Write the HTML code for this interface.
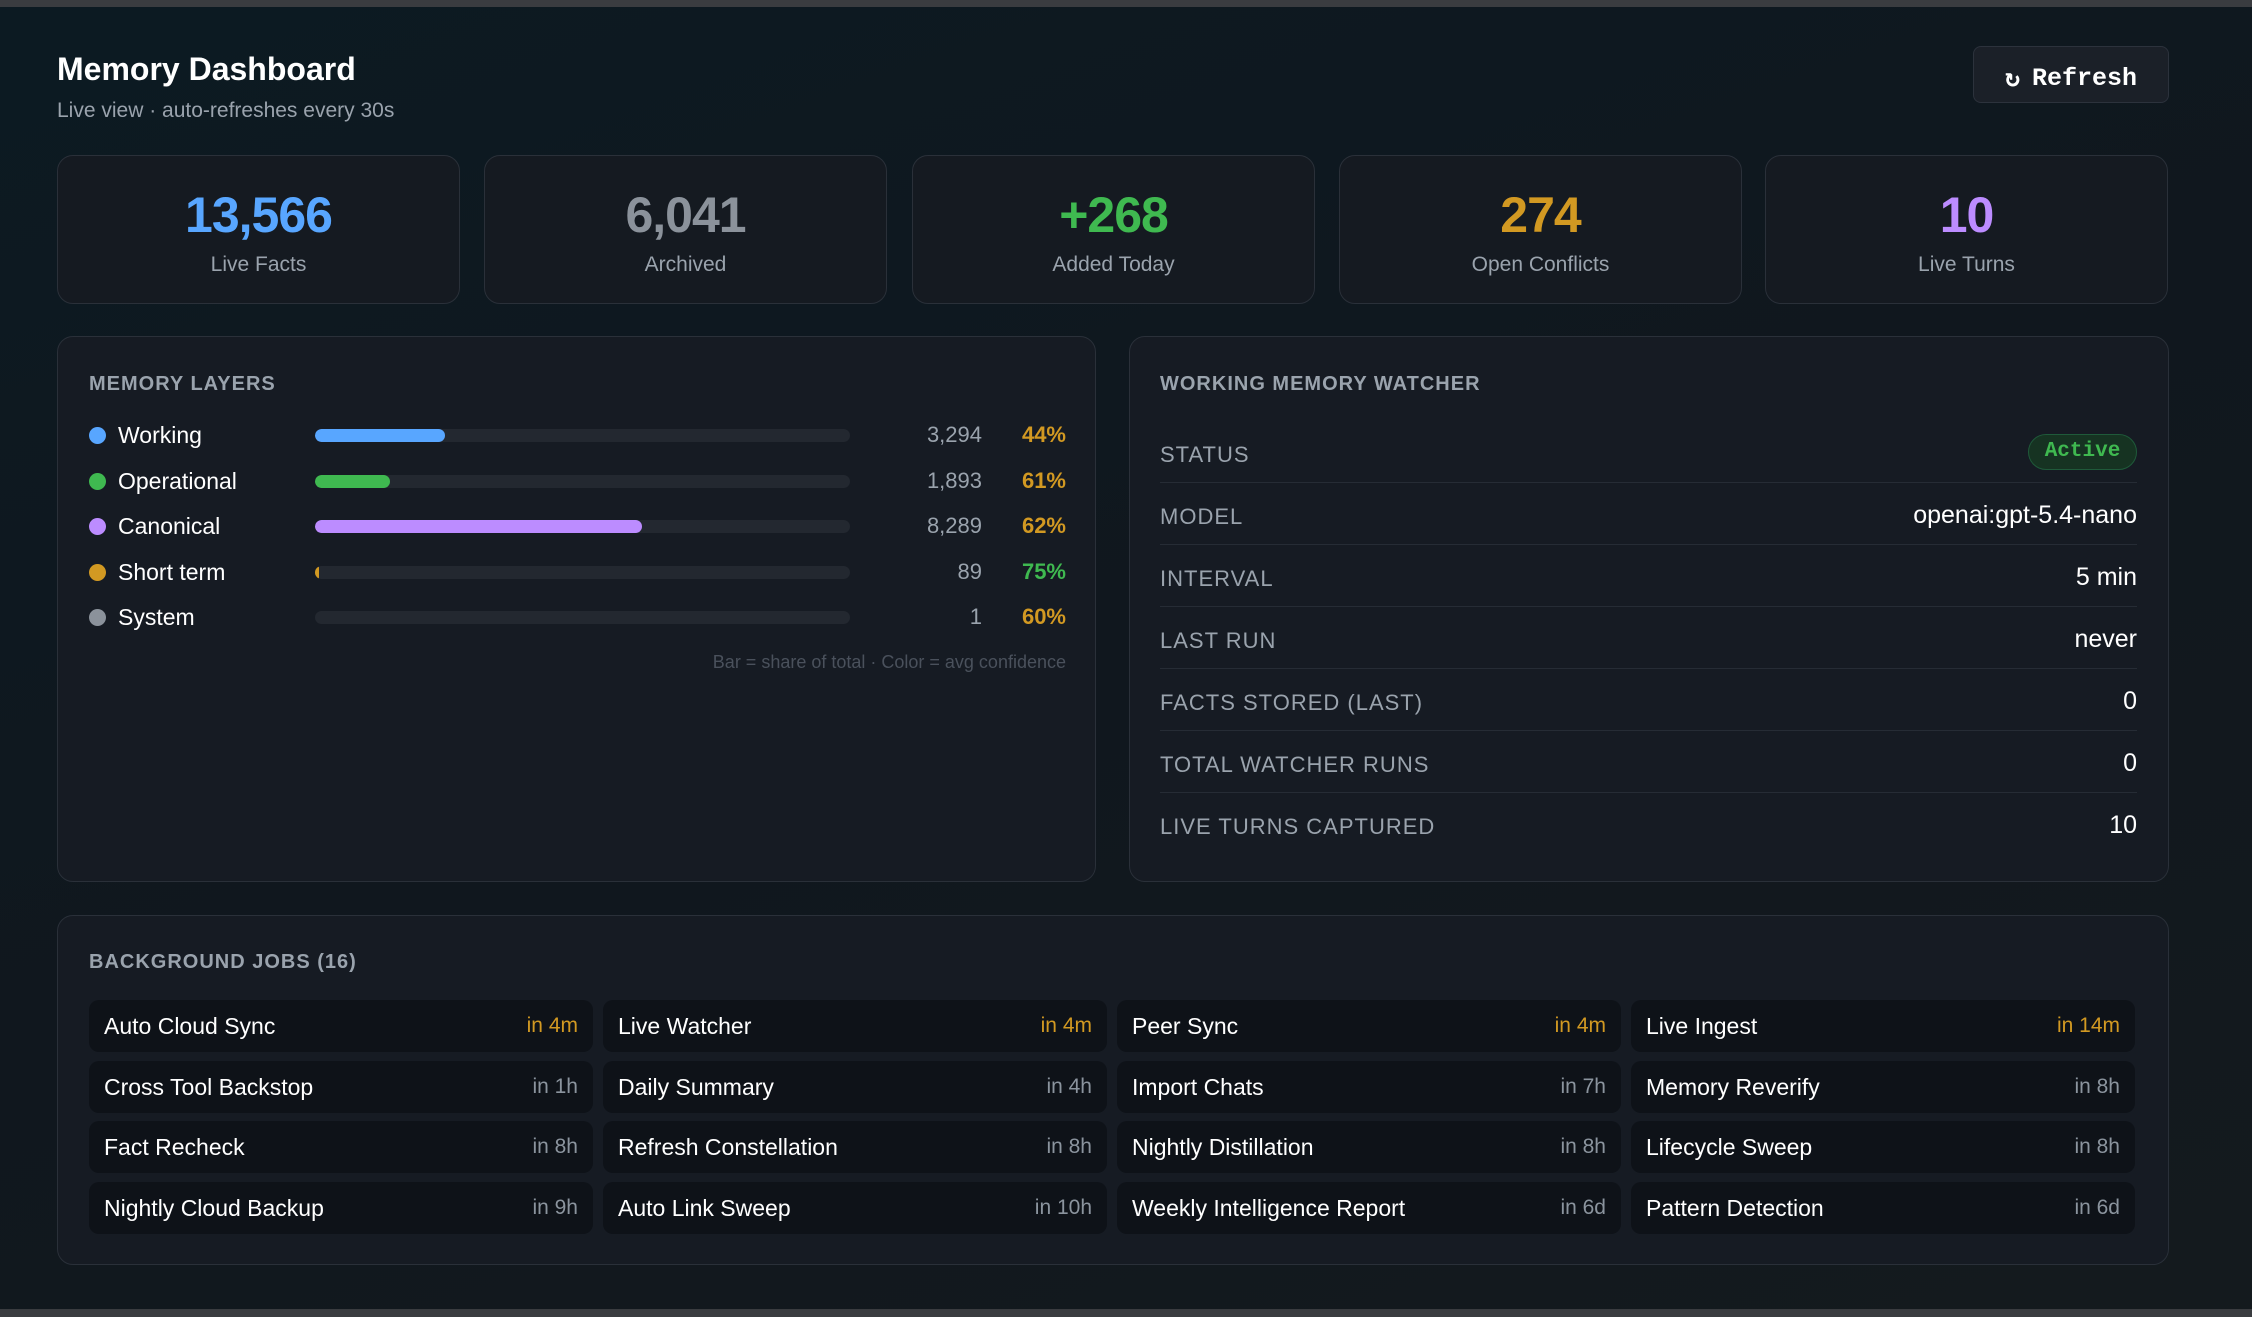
<!DOCTYPE html>
<html><head><meta charset="utf-8"><style>
*{box-sizing:border-box;margin:0;padding:0}
body{width:2252px;height:1317px;overflow:hidden;background:linear-gradient(160deg,#0c1a22 0%,#10171e 50%,#141a1e 100%);font-family:"Liberation Sans",sans-serif;color:#e6edf3;position:relative}
.abs{position:absolute}
.topbar{left:0;top:0;width:2252px;height:7px;background:#3a3c40}
.botbar{left:0;top:1309px;width:2252px;height:8px;background:#3a3c40}
h1{position:absolute;left:57px;top:51px;font-size:32px;font-weight:bold;color:#fff}
.sub{left:57px;top:99px;font-size:21px;color:#9aa3ad}
.refresh{left:1973px;top:46px;width:196px;height:57px;background:#1b2028;border:1px solid #2c323c;border-radius:8px;font-family:"Liberation Mono",monospace;font-weight:bold;font-size:25px;color:#fff;display:flex;align-items:center;justify-content:center;gap:12px;padding-top:8px}
.card{top:155px;width:403px;height:149px;background:#151a21;border:1px solid #2a3039;border-radius:16px;text-align:center}
.card .n{margin-top:30px;font-size:50px;font-weight:bold;letter-spacing:-1px}
.card .l{margin-top:9px;font-size:21px;color:#9aa3ad}
.panel{background:#161b23;border:1px solid #2a3039;border-radius:16px}
.ph{font-size:20px;font-weight:bold;color:#9aa3ad;letter-spacing:1px}
.row{left:89px;height:30px;width:980px}
.dot{position:absolute;left:0;top:7px;width:17px;height:17px;border-radius:50%}
.lname{position:absolute;left:29px;top:2px;font-size:23px;color:#fff}
.track{position:absolute;left:226px;top:9px;width:535px;height:13px;border-radius:7px;background:#232830;overflow:hidden}
.fill{height:100%;border-radius:7px}
.cnt{position:absolute;right:87px;top:2px;font-size:22px;color:#9aa3ad}
.pct{position:absolute;right:3px;top:2px;font-size:22px;font-weight:bold}
.wrow{left:1160px;width:977px;height:62px;border-bottom:1px solid #262c35}
.wl{position:absolute;left:0;top:21px;font-size:22px;color:#9aa3ad;letter-spacing:1px}
.wv{position:absolute;right:0;top:18px;font-size:25px;color:#fff}
.job{width:504px;height:52px;background:#0e1218;border-radius:10px}
.jn{position:absolute;left:15px;top:13px;font-size:23px;color:#fff}
.jt{position:absolute;right:15px;top:14px;font-size:21px;color:#8b949e}
</style></head><body>
<div class="abs topbar"></div>
<h1>Memory Dashboard</h1>
<div class="abs sub">Live view · auto-refreshes every 30s</div>
<div class="abs refresh"><span>↻</span><span>Refresh</span></div>

<div class="abs card" style="left:57px"><div class="n" style="color:#58a6ff">13,566</div><div class="l">Live Facts</div></div>
<div class="abs card" style="left:484px"><div class="n" style="color:#8b929b">6,041</div><div class="l">Archived</div></div>
<div class="abs card" style="left:912px"><div class="n" style="color:#3fb950">+268</div><div class="l">Added Today</div></div>
<div class="abs card" style="left:1339px"><div class="n" style="color:#d29922">274</div><div class="l">Open Conflicts</div></div>
<div class="abs card" style="left:1765px"><div class="n" style="color:#bc8cff">10</div><div class="l">Live Turns</div></div>

<div class="abs panel" style="left:57px;top:336px;width:1039px;height:546px"></div>
<div class="abs ph" style="left:89px;top:373px">MEMORY LAYERS</div>
<div id="layers"></div>
<div class="abs" style="left:600px;width:466px;text-align:right;top:652px;font-size:18px;color:#4a515c">Bar = share of total · Color = avg confidence</div>

<div class="abs panel" style="left:1129px;top:336px;width:1040px;height:546px"></div>
<div class="abs ph" style="left:1160px;top:373px">WORKING MEMORY WATCHER</div>
<div class="abs wrow" style="top:421px"><span class="wl">STATUS</span><span class="abs" style="right:0;top:13px;width:109px;height:36px;border-radius:18px;background:#163322;border:1px solid #1f5a3a;color:#3fb950;font-family:'Liberation Mono',monospace;font-weight:bold;font-size:21px;text-align:center;line-height:34px">Active</span></div>
<div class="abs wrow" style="top:483px"><span class="wl">MODEL</span><span class="wv">openai:gpt-5.4-nano</span></div>
<div class="abs wrow" style="top:545px"><span class="wl">INTERVAL</span><span class="wv">5 min</span></div>
<div class="abs wrow" style="top:607px"><span class="wl">LAST RUN</span><span class="wv">never</span></div>
<div class="abs wrow" style="top:669px"><span class="wl">FACTS STORED (LAST)</span><span class="wv">0</span></div>
<div class="abs wrow" style="top:731px"><span class="wl">TOTAL WATCHER RUNS</span><span class="wv">0</span></div>
<div class="abs wrow" style="top:793px;border-bottom:none"><span class="wl">LIVE TURNS CAPTURED</span><span class="wv">10</span></div>

<div class="abs panel" style="left:57px;top:915px;width:2112px;height:350px"></div>
<div class="abs ph" style="left:89px;top:951px">BACKGROUND JOBS (16)</div>
<div id="jobs"></div>
<div class="abs botbar"></div>

<script>
const layerNames=["Working","Operational","Canonical","Short term","System"];
const layerCounts=[3294,1893,8289,89,1];
const layerConf=[44,61,62,75,60];
const layerColors=["#58a6ff","#3fb950","#bc8cff","#d29922","#8b929b"];
const totalFacts=13566;
const L=document.getElementById('layers');
layerNames.forEach((n,i)=>{
  const r=document.createElement('div');r.className='abs row';r.style.top=(420+i*45.5)+'px';
  
  
  const c=layerConf[i]>=70?'#3fb950':'#d29922';
  const w=Math.max(layerCounts[i]/totalFacts*100,layerCounts[i]>50?0.6:0);
  r.innerHTML=`<span class="dot" style="background:${layerColors[i]}"></span><span class="lname">${n}</span><div class="track"><div class="fill" style="width:${w}%;background:${layerColors[i]}"></div></div><span class="cnt">${layerCounts[i].toLocaleString('en-US')}</span><span class="pct" style="color:${c}">${layerConf[i]}%</span>`;
  L.appendChild(r);
});
const jobNames=["Auto Cloud Sync","Live Watcher","Peer Sync","Live Ingest","Cross Tool Backstop","Daily Summary","Import Chats","Memory Reverify","Fact Recheck","Refresh Constellation","Nightly Distillation","Lifecycle Sweep","Nightly Cloud Backup","Auto Link Sweep","Weekly Intelligence Report","Pattern Detection"];
const jobTimes=["in 4m","in 4m","in 4m","in 14m","in 1h","in 4h","in 7h","in 8h","in 8h","in 8h","in 8h","in 8h","in 9h","in 10h","in 6d","in 6d"];
const J=document.getElementById('jobs');
jobNames.forEach((n,i)=>{
  const col=i%4,row=Math.floor(i/4);
  const d=document.createElement('div');d.className='abs job';
  d.style.left=(89+col*514)+'px';d.style.top=(1000+row*60.5)+'px';
  
  
  const soon=/m$/.test(jobTimes[i]);
  d.innerHTML=`<span class="jn">${n}</span><span class="jt" style="${soon?'color:#d29922':''}">${jobTimes[i]}</span>`;
  J.appendChild(d);
});
</script>
</body></html>
